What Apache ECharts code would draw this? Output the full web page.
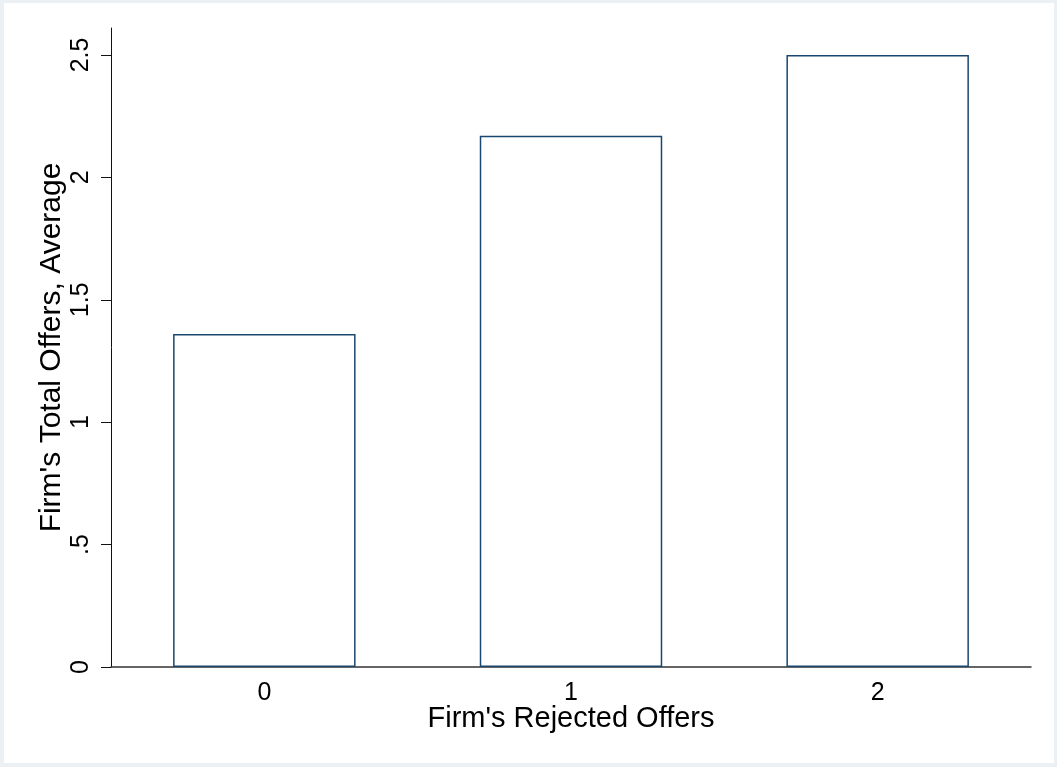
<!DOCTYPE html>
<html>
<head>
<meta charset="utf-8">
<script src="https://cdn.jsdelivr.net/npm/echarts@6/dist/echarts.min.js"></script>
<style>
html,body{margin:0;padding:0;background:#eaf0f4;}
#chart{width:1057px;height:767px;}
</style>
</head>
<body>
<div id="chart"></div>
<script>
var categories = ['0', '1', '2'];
var values = [1.36, 2.17, 2.5];
var yTickValues = [0, 0.5, 1, 1.5, 2, 2.5];
var yTickLabels = ['0', '.5', '1', '1.5', '2', '2.5'];
var xTitle = "Firm's Rejected Offers";
var yTitle = "Firm's Total Offers, Average";

var font = 'Liberation Sans, Arial, sans-serif';
var chart = echarts.init(document.getElementById('chart'), null, {renderer: 'canvas'});
chart.setOption({
  backgroundColor: '#eaf0f4',
  animation: false,
  graphic: [{
    type: 'rect', left: 4, top: 3, z: -10, silent: true,
    shape: {width: 1050, height: 760},
    style: {fill: '#ffffff'}
  }],
  grid: {left: 111, right: 26, top: 28, bottom: 100, containLabel: false},
  xAxis: {
    type: 'category',
    data: categories,
    name: xTitle,
    nameLocation: 'middle',
    nameGap: 37,
    nameMoveOverlap: false,
    nameTextStyle: {fontFamily: font, fontSize: 29, color: '#000'},
    axisLine: {lineStyle: {color: '#333', width: 1.5}},
    axisTick: {show: false},
    axisLabel: {fontFamily: font, fontSize: 25, color: '#000', margin: 14}
  },
  yAxis: {
    type: 'value',
    min: 0,
    max: 2.61,
    name: yTitle,
    nameLocation: 'middle',
    nameGap: 44,
    nameMoveOverlap: false,
    nameRotate: 90,
    nameTextStyle: {fontFamily: font, fontSize: 30, color: '#000'},
    splitLine: {show: false},
    axisLine: {show: true, lineStyle: {color: '#111', width: 1}},
    axisTick: {show: true, length: 10, customValues: yTickValues, lineStyle: {color: '#111', width: 1}},
    axisLabel: {
      fontFamily: font, fontSize: 25, color: '#000', margin: 17, rotate: 90,
      customValues: yTickValues,
      formatter: function (v) {
        for (var i = 0; i < yTickValues.length; i++) {
          if (Math.abs(v - yTickValues[i]) < 1e-9) return yTickLabels[i];
        }
        return '';
      }
    }
  },
  series: [{
    type: 'bar',
    data: values,
    barCategoryGap: '40.5%',
    itemStyle: {color: '#ffffff', borderColor: '#1a476f', borderWidth: 1.5}
  }]
});
</script>
</body>
</html>
